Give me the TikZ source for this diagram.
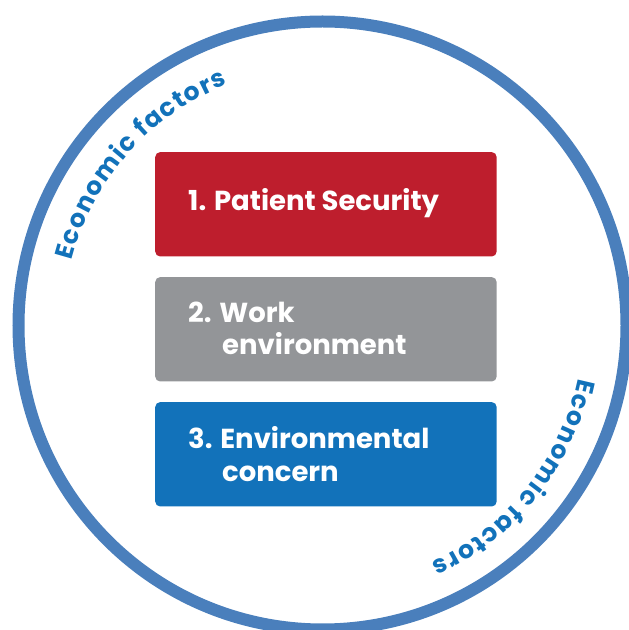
\documentclass[tikz,border=0pt]{standalone}
\usepackage{fontspec}
\setmainfont{Poppins}
\usetikzlibrary{decorations.text}
\definecolor{ringblue}{HTML}{4A7FBC}
\definecolor{textblue}{HTML}{1272BA}
\definecolor{boxred}{HTML}{BE1E2D}
\definecolor{boxgray}{HTML}{939598}
\definecolor{boxblue}{HTML}{1272BA}
\newcommand{\curvefont}{\bfseries\fontsize{25}{25}\selectfont}
\begin{document}
\begin{tikzpicture}[x=1pt,y=1pt,
  box/.style={rounded corners=5pt, minimum width=341.5pt, minimum height=104.4pt, inner sep=0pt, anchor=south west},
  lbl/.style={text=white, font=\bfseries\fontsize{27.5}{33}\selectfont, anchor=base west, inner sep=0pt},
  curved/.style={decorate, decoration={text effects along path, text align=center,
     text={Economic factors},
     text effects/.cd,
       characters={text=textblue, font=\curvefont, inner sep=0pt, anchor=base, transform shape},
       character widths={font=\curvefont, inner xsep=0.7pt, inner ysep=0pt}}},
]
\useasboundingbox (0,0) rectangle (629,630);
\clip (0,0) rectangle (629,630);
\coordinate (c) at (322.5,304.5);
\draw[ringblue, line width=12pt] (c) circle[radius=304];
\node[box, fill=boxred] (b1) at (155,373.3) {};
\node[box, fill=boxgray] (b2) at (155,248.3) {};
\node[box, fill=boxblue] (b3) at (155,123.3) {};
\node[lbl] (t1) at (188,419) {1. Patient Security};
\node[lbl] (t2a) at (188,307) {2. Work};
\node[lbl] (t2b) at (222,275) {environment};
\node[lbl] (t3a) at (188,181) {3. Environmental};
\node[lbl] (t3b) at (222,148) {concern};
\path[curved, shift={(c)}] (178.5:259) arc[start angle=178.5, end angle=98.5, radius=259];
\path[curved, shift={(c)}] (1.5:261) arc[start angle=1.5, end angle=-78.5, radius=261];
\end{tikzpicture}
\end{document}
